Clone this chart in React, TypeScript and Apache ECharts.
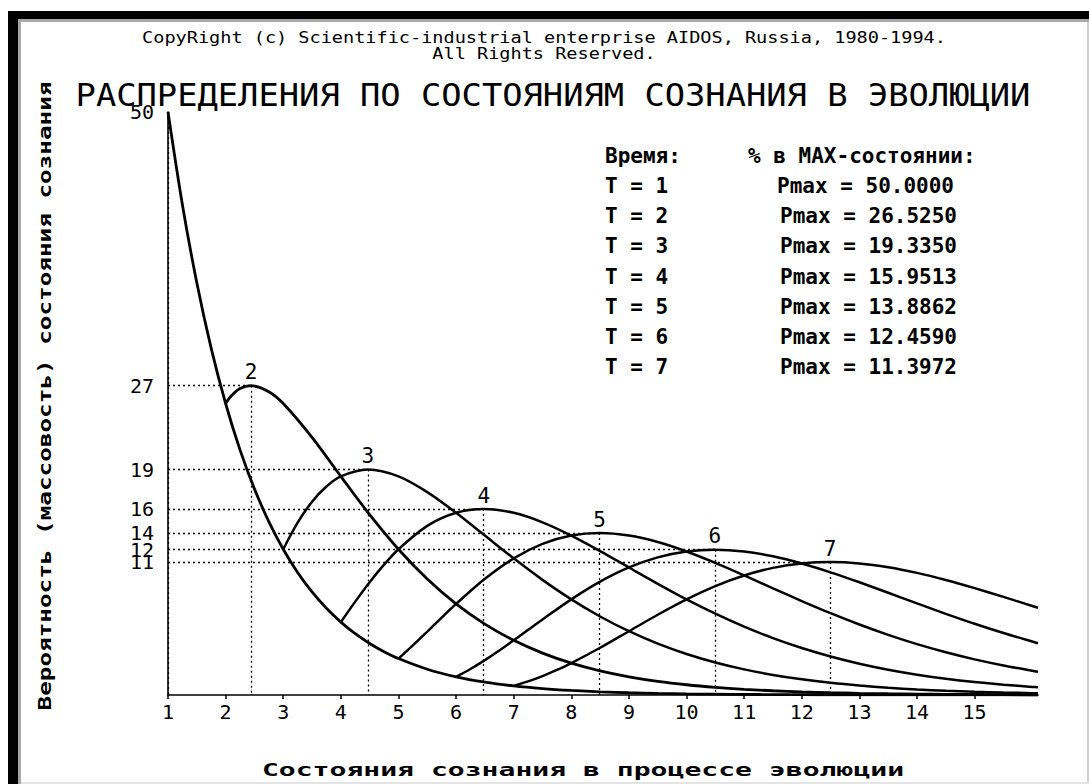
import React, { useEffect, useRef } from 'react';
import * as echarts from 'echarts';

// ---- data ----
const timeSteps = [1, 2, 3, 4, 5, 6, 7];
const pmaxValues = [50.0, 26.525, 19.335, 15.9513, 13.8862, 12.459, 11.3972];
const peakStates = [1, 2.44, 4.47, 6.48, 8.49, 10.49, 12.49];
const xTickValues = [1, 2, 3, 4, 5, 6, 7, 8, 9, 10, 11, 12, 13, 14, 15];

const curveT1: [number, number][] = [
  [1, 50], [1.25, 42.045], [1.5, 35.355], [1.75, 29.73], [2, 25], [2.25, 21.022], [2.5, 17.678],
  [2.75, 14.865], [3, 12.5], [3.25, 10.511], [3.5, 8.839], [3.75, 7.433], [4, 6.25], [4.25, 5.256],
  [4.5, 4.419], [4.75, 3.716], [5, 3.125], [5.5, 2.21], [6, 1.5625], [6.5, 1.105], [7, 0.781],
  [7.5, 0.552], [8, 0.391], [8.5, 0.276], [9, 0.195], [9.5, 0.138], [10, 0.0977], [10.5, 0.0691],
  [11, 0.0488], [11.5, 0.0345], [12, 0.0244], [12.5, 0.0173], [13, 0.0122], [13.5, 0.0086],
  [14, 0.0061], [14.5, 0.0043], [15, 0.0031], [15.5, 0.0022], [16, 0.0015], [16.1, 0.0014],
];
const curveT2: [number, number][] = [
  [2, 25], [2.1, 25.658], [2.25, 26.278], [2.44, 26.525], [2.75, 26.014], [3, 25], [3.5, 22.097],
  [4, 18.75], [4.5, 15.468], [5, 12.5], [5.5, 9.944], [6, 7.8125], [6.5, 6.077], [7, 4.6875],
  [7.5, 3.591], [8, 2.734], [8.5, 2.072], [9, 1.5625], [9.5, 1.174], [10, 0.879], [10.5, 0.656],
  [11, 0.488], [11.5, 0.363], [12, 0.269], [12.5, 0.199], [13, 0.146], [13.5, 0.108], [14, 0.079],
  [14.5, 0.058], [15, 0.043], [15.5, 0.031], [16, 0.023], [16.1, 0.021],
];
const curveT3: [number, number][] = [
  [3, 12.5], [3.25, 14.781], [3.5, 16.573], [3.75, 17.884], [4, 18.75], [4.47, 19.335], [5, 18.75],
  [5.5, 17.401], [6, 15.625], [6.5, 13.673], [7, 11.719], [7.5, 9.875], [8, 8.203], [8.5, 6.733],
  [9, 5.469], [9.5, 4.402], [10, 3.516], [10.5, 2.788], [11, 2.197], [11.5, 1.722], [12, 1.343],
  [12.5, 1.042], [13, 0.806], [13.5, 0.62], [14, 0.476], [14.5, 0.364], [15, 0.278], [15.5, 0.211],
  [16, 0.16], [16.1, 0.152],
];
const curveT4: [number, number][] = [
  [4, 6.25], [4.25, 8.007], [4.5, 9.667], [4.75, 11.178], [5, 12.5], [5.5, 14.501], [6, 15.625],
  [6.48, 15.9513], [7, 15.625], [7.5, 14.812], [8, 13.672], [8.5, 12.343], [9, 10.938], [9.5, 9.538],
  [10, 8.203], [10.5, 6.97], [11, 5.859], [11.5, 4.879], [12, 4.028], [12.5, 3.301], [13, 2.686],
  [13.5, 2.171], [14, 1.746], [14.5, 1.396], [15, 1.111], [15.5, 0.88], [16, 0.694], [16.1, 0.662],
];
const curveT5: [number, number][] = [
  [5, 3.125], [5.25, 4.254], [5.5, 5.438], [5.75, 6.637], [6, 7.8125], [6.5, 9.97], [7, 11.719],
  [7.5, 12.961], [8, 13.672], [8.49, 13.8862], [9, 13.672], [9.5, 13.115], [10, 12.305], [10.5, 11.326],
  [11, 10.254], [11.5, 9.148], [12, 8.057], [12.5, 7.014], [13, 6.043], [13.5, 5.157], [14, 4.364],
  [14.5, 3.664], [15, 3.055], [15.5, 2.53], [16, 2.083], [16.1, 2.002],
];
const curveT6: [number, number][] = [
  [6, 1.5625], [6.25, 2.233], [6.5, 2.991], [6.75, 3.816], [7, 4.6875], [7.5, 6.48], [8, 8.203],
  [8.5, 9.72], [9, 10.938], [9.5, 11.803], [10, 12.305], [10.49, 12.459], [11, 12.305], [11.5, 11.893],
  [12, 11.279], [12.5, 10.52], [13, 9.668], [13.5, 8.767], [14, 7.855], [14.5, 6.962], [15, 6.11],
  [15.5, 5.313], [16, 4.582], [16.1, 4.444],
];
const curveT7: [number, number][] = [
  [7, 0.78125], [7.25, 1.163], [7.5, 1.62], [7.75, 2.147], [8, 2.734], [8.5, 4.05], [9, 5.469],
  [9.5, 6.885], [10, 8.203], [10.5, 9.344], [11, 10.254], [11.5, 10.902], [12, 11.279], [12.49, 11.3972],
  [13, 11.279], [13.5, 10.959], [14, 10.474], [14.5, 9.863], [15, 9.164], [15.5, 8.413], [16, 7.637],
  [16.1, 7.481],
];
const curves = [curveT1, curveT2, curveT3, curveT4, curveT5, curveT6, curveT7];

const copyrightLines = [
  'CopyRight (c) Scientific-industrial enterprise AIDOS, Russia, 1980-1994.',
  'All Rights Reserved.',
];
const chartTitle = 'РАСПРЕДЕЛЕНИЯ ПО СОСТОЯНИЯМ СОЗНАНИЯ В ЭВОЛЮЦИИ';
const yAxisTitle = 'Вероятность (массовость) состояния сознания';
const xAxisTitle = 'Состояния сознания в процессе эволюции';
const legendHeadTime = 'Время:';
const legendHeadPmax = '% в MAX-состоянии:';

const MONO = '"DejaVu Sans Mono", "Liberation Mono", monospace';

function buildOption() {
  const series = curves.map((data, i) => {
    const t = timeSteps[i];
    const px = peakStates[i];
    const py = pmaxValues[i];
    const lines: any[] = [];
    if (px > 1) {
      // horizontal dotted line from the y axis to the peak, labelled with the rounded Pmax
      lines.push([
        {
          coord: [1, py],
          label: {
            show: true,
            position: 'start',
            distance: 14,
            formatter: String(Math.round(py)),
            color: '#000',
            fontFamily: MONO,
            fontSize: 20,
          },
        },
        { coord: [px, py] },
      ]);
    }
    lines.push([
      {
        coord: [px, py],
        label: {
          show: t > 1,
          position: 'start',
          distance: 3,
          formatter: String(t),
          color: '#000',
          fontFamily: MONO,
          fontSize: 21,
        },
      },
      { coord: [px, 0] },
    ]);
    return {
      type: 'line',
      name: 'T = ' + t,
      data,
      showSymbol: false,
      symbol: 'none',
      smooth: 0.3,
      silent: true,
      lineStyle: { color: '#000', width: i < 2 ? 2.8 : 2.5 },
      z: 3,
      markLine: {
        silent: true,
        animation: false,
        symbol: ['none', 'none'],
        lineStyle: { type: [2, 3], color: '#000', width: 1.3 },
        label: { show: false },
        data: lines,
        z: 2,
      },
    };
  });

  const graphic: any[] = [
    { type: 'rect', shape: { x: 8, y: 11, width: 1081, height: 8 }, style: { fill: '#000' }, silent: true },
    { type: 'rect', shape: { x: 8, y: 11, width: 10, height: 773 }, style: { fill: '#000' }, silent: true },
    { type: 'rect', shape: { x: 18, y: 19, width: 3, height: 765 }, style: { fill: '#a8a8a8' }, silent: true },
    { type: 'rect', shape: { x: 18, y: 19, width: 1071, height: 3 }, style: { fill: '#a8a8a8' }, silent: true },
    { type: 'rect', shape: { x: 1087, y: 22, width: 2, height: 762 }, style: { fill: '#cfcfcf' }, silent: true },
    { type: 'rect', shape: { x: 21, y: 782, width: 1068, height: 2 }, style: { fill: '#e4e4e4' }, silent: true },
    {
      type: 'text', x: 544, y: 37, scaleX: 1.16, silent: true,
      style: { text: copyrightLines[0], font: `16px ${MONO}`, fill: '#000', textAlign: 'center', textVerticalAlign: 'middle' },
    },
    {
      type: 'text', x: 544, y: 53, scaleX: 1.16, silent: true,
      style: { text: copyrightLines[1], font: `16px ${MONO}`, fill: '#000', textAlign: 'center', textVerticalAlign: 'middle' },
    },
    {
      type: 'text', x: 553, y: 95, scaleX: 1.055, silent: true,
      style: { text: chartTitle, font: `32px ${MONO}`, fill: '#000', textAlign: 'center', textVerticalAlign: 'middle' },
    },
    {
      type: 'text', x: 45, y: 396, rotation: Math.PI / 2, scaleX: 1.35, silent: true,
      style: { text: yAxisTitle, font: `bold 18px ${MONO}`, fill: '#000', textAlign: 'center', textVerticalAlign: 'middle' },
    },
    {
      type: 'text', x: 583, y: 770, scaleX: 1.56, silent: true,
      style: { text: xAxisTitle, font: `bold 18px ${MONO}`, fill: '#000', textAlign: 'center', textVerticalAlign: 'middle' },
    },
    {
      type: 'text', x: 605, y: 156, silent: true,
      style: { text: legendHeadTime, font: `bold 21px ${MONO}`, fill: '#000', textAlign: 'left', textVerticalAlign: 'middle' },
    },
    {
      type: 'text', x: 748, y: 156, silent: true,
      style: { text: legendHeadPmax, font: `bold 21px ${MONO}`, fill: '#000', textAlign: 'left', textVerticalAlign: 'middle' },
    },
  ];
  timeSteps.forEach((t, i) => {
    const y = 186 + i * 30.2;
    graphic.push({
      type: 'text', x: 605, y, silent: true,
      style: { text: `T = ${t}`, font: `bold 21px ${MONO}`, fill: '#000', textAlign: 'left', textVerticalAlign: 'middle' },
    });
    graphic.push({
      type: 'text', x: i === 0 ? 777 : 780, y, silent: true,
      style: { text: `Pmax = ${pmaxValues[i].toFixed(4)}`, font: `bold 21px ${MONO}`, fill: '#000', textAlign: 'left', textVerticalAlign: 'middle' },
    });
  });

  return {
    animation: false,
    backgroundColor: '#ffffff',
    textStyle: { fontFamily: MONO },
    grid: { left: 168, right: 51, top: 112, bottom: 89, containLabel: false },
    xAxis: {
      type: 'value',
      min: 1,
      max: 16.1,
      interval: 1,
      axisLine: { show: true, onZero: false, lineStyle: { color: '#000', width: 1.6 } },
      axisTick: { show: true, length: 4, inside: false, lineStyle: { color: '#000', width: 1.5 }, customValues: xTickValues },
      axisLabel: {
        customValues: xTickValues,
        margin: 7,
        color: '#000',
        fontFamily: MONO,
        fontSize: 20,
        formatter: (v: number) => (v <= 15 && Number.isInteger(v) ? String(v) : ''),
      },
      splitLine: { show: false },
    },
    yAxis: {
      type: 'value',
      min: 0,
      max: 50,
      axisLine: { show: true, onZero: false, lineStyle: { color: '#000', width: 1.6 } },
      axisTick: { show: false },
      axisLabel: {
        customValues: [pmaxValues[0]],
        margin: 14,
        color: '#000',
        fontFamily: MONO,
        fontSize: 20,
        verticalAlign: 'middle',
        padding: [10, 0, 0, 0],
        formatter: (v: number) => String(Math.round(v)),
      },
      splitLine: { show: false },
    },
    series,
    graphic,
  };
}

export default function App() {
  const ref = useRef<HTMLDivElement>(null);
  useEffect(() => {
    if (!ref.current) return;
    const chart = echarts.init(ref.current, null, { renderer: 'svg' });
    chart.setOption(buildOption() as any);
    return () => chart.dispose();
  }, []);
  return (
    <div
      ref={ref}
      style={{ position: 'fixed', left: 0, top: 0, width: 1089, height: 784, background: '#fff' }}
    />
  );
}
